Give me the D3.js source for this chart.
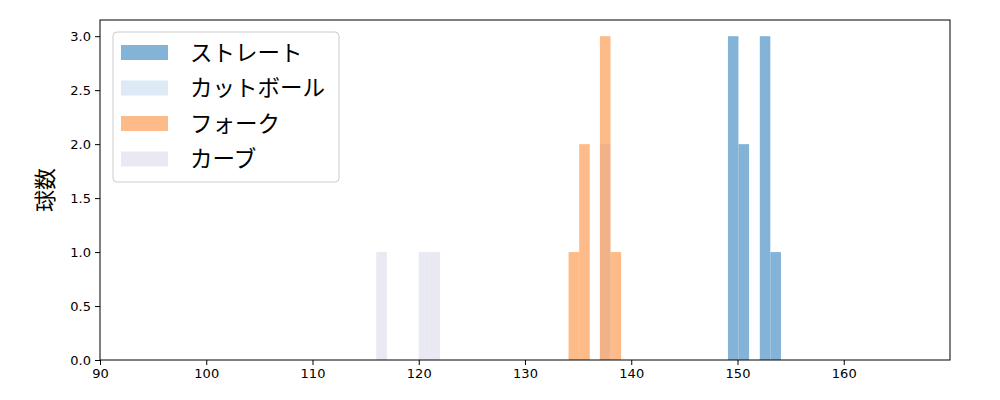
<!DOCTYPE html>
<html>
<head>
<meta charset="utf-8">
<script src="https://cdn.jsdelivr.net/npm/d3@7"></script>
<style>
  body { margin: 0; background: #fff; }
  svg text { font-family: "DejaVu Sans", sans-serif; }
</style>
</head>
<body>
<div id="chart"></div>
<script>
// pitch types, in drawing order
var pitchNames = ["ストレート", "カットボール", "フォーク", "カーブ"];
var pitchColors = ["#3182bd", "#c6dbef", "#fd8d3c", "#dadaeb"];

// histogram bins: left edge (km/h), width, count
var straightStart = [149.1, 150.1, 152.1, 153.1];
var straightCount = [3, 2, 3, 1];
var cutStart = [137.05];
var cutCount = [2];
var forkStart = [134.1, 135.1, 137.05, 138.05];
var forkCount = [1, 2, 3, 1];
var curveStart = [116.0, 120.0, 121.0];
var curveCount = [1, 1, 1];
var binWidth = [0.99, 1.0, 1.0, 1.0];

var xTicks = [90, 100, 110, 120, 130, 140, 150, 160];
var yTicks = [0, 0.5, 1, 1.5, 2, 2.5, 3];

var W = 1000, H = 400;
var margin = {top: 20, right: 50, bottom: 40, left: 100},
    width = W - margin.left - margin.right,
    height = H - margin.top - margin.bottom;

var svg = d3.select("#chart")
  .append("svg")
    .attr("width", W)
    .attr("height", H)
  .append("g")
    .attr("transform", "translate(" + margin.left + "," + margin.top + ")");

var x = d3.scaleLinear().domain([90, 170]).range([0, width]);
var y = d3.scaleLinear().domain([0, 3.15]).range([height, 0]);

var series = [
  {start: straightStart, count: straightCount},
  {start: cutStart, count: cutCount},
  {start: forkStart, count: forkCount},
  {start: curveStart, count: curveCount}
];

series.forEach(function(s, i) {
  var bins = s.start.map(function(v, j) { return {x0: v, x1: v + binWidth[i], n: s.count[j]}; });
  svg.append("g").selectAll("rect")
    .data(bins)
    .enter()
    .append("rect")
      .attr("x", function(d) { return x(d.x0); })
      .attr("width", function(d) { return x(d.x1) - x(d.x0); })
      .attr("y", function(d) { return y(d.n); })
      .attr("height", function(d) { return y(0) - y(d.n); })
      .attr("fill", pitchColors[i])
      .attr("fill-opacity", 0.6);
});

// axes
var xAxis = svg.append("g")
  .attr("transform", "translate(0," + height + ")")
  .call(d3.axisBottom(x).tickValues(xTicks).tickSize(5).tickPadding(4).tickFormat(d3.format("d")));
var yAxis = svg.append("g")
  .call(d3.axisLeft(y).tickValues(yTicks).tickSize(5).tickPadding(4).tickFormat(d3.format(".1f")));

[xAxis, yAxis].forEach(function(a) {
  a.select(".domain").remove();
  a.selectAll("line").attr("stroke", "#000").attr("stroke-width", 1);
  a.selectAll("text").attr("fill", "#000").style("font-size", "13px").style("font-family", "DejaVu Sans");
});

// frame
svg.append("rect")
  .attr("width", width)
  .attr("height", height)
  .attr("fill", "none")
  .attr("stroke", "#000")
  .attr("stroke-width", 1);

// y label
svg.append("text")
  .attr("transform", "translate(-57," + (height / 2) + ") rotate(-90)")
  .attr("text-anchor", "middle")
  .attr("dominant-baseline", "central")
  .style("font-family", "Noto Sans CJK JP")
  .style("font-size", "22px")
  .text("球数");

// legend
var legend = svg.append("g").attr("transform", "translate(13,12)");
legend.append("rect")
  .attr("width", 226)
  .attr("height", 150)
  .attr("rx", 4)
  .attr("fill", "#fff")
  .attr("fill-opacity", 0.8)
  .attr("stroke", "#ccc");

pitchNames.forEach(function(name, i) {
  var row = legend.append("g").attr("transform", "translate(0," + (20 + i * 35.5) + ")");
  row.append("rect")
    .attr("x", 8)
    .attr("y", -7)
    .attr("width", 47)
    .attr("height", 15)
    .attr("fill", pitchColors[i])
    .attr("fill-opacity", 0.6);
  row.append("text")
    .attr("x", 77)
    .attr("y", -1.5)
    .attr("dominant-baseline", "central")
    .style("font-family", "Noto Sans CJK JP")
    .style("font-size", "22.5px")
    .text(name);
});
</script>
</body>
</html>
